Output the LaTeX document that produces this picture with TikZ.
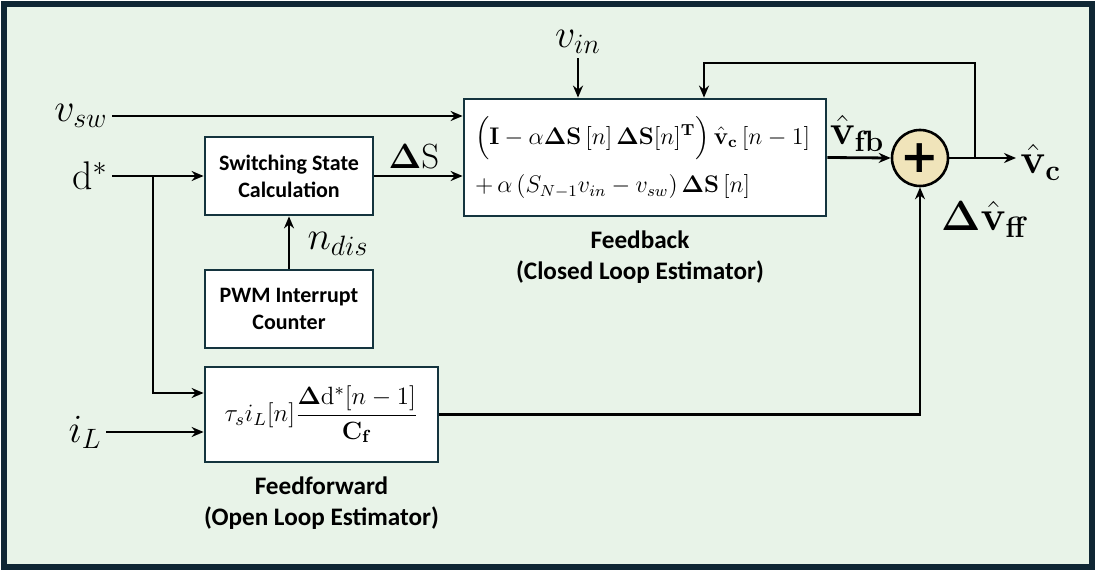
\RequirePackage{fix-cm}
\documentclass[tikz,border=0pt]{standalone}
\usepackage{amsmath}
\usepackage[no-math]{fontspec}
\newfontfamily\labelfont{Carlito}
\newfontfamily\plusfont{DejaVu Sans}
\usetikzlibrary{arrows.meta,positioning,calc}
\definecolor{FrameNavy}{RGB}{15,38,52}
\definecolor{PaleGreen}{RGB}{232,243,232}
\definecolor{BoxEdge}{RGB}{20,52,62}
\definecolor{SumTan}{RGB}{240,228,186}
\tikzset{
  blockbox/.style={draw=BoxEdge, line width=1.4pt, fill=white, align=center,
    minimum width=#1, minimum height=39pt, inner sep=3pt,
    font=\labelfont\bfseries\fontsize{11}{13.5}\selectfont},
  blockbox/.default=84pt,
  mathbox/.style={draw=BoxEdge, line width=1.4pt, fill=white,
    minimum width=#1, inner sep=3pt, font=\fontsize{12.5}{15}\selectfont},
  mathbox/.default=116.5pt,
  sigarr/.style={-{Stealth[length=6pt, width=5pt]}, line width=1.4pt, black},
  siglabel/.style={font=\fontsize{20}{24}\selectfont, inner sep=2pt},
  outlabel/.style={font=\fontsize{21}{25}\selectfont, inner sep=2pt},
  capnote/.style={align=center, font=\labelfont\bfseries\fontsize{12.6}{15.5}\selectfont},
  sumnode/.style={circle, draw=black, line width=1.3pt, fill=SumTan,
    minimum size=28pt, inner sep=0pt, font=\plusfont\bfseries\fontsize{23}{23}\selectfont},
}
\begin{document}
\begin{tikzpicture}[x=0.5pt, y=-0.5pt]
  \useasboundingbox (0,0) rectangle (1096,572);
  \draw[line width=3.3pt, draw=FrameNavy, fill=PaleGreen] (4,4) rectangle (1092,567);

  % blocks
  \node[blockbox] (ssc) at (289,176) {Switching State\\Calculation};
  \node[blockbox] (pwm) at (289,309) {PWM Interrupt\\Counter};
  \node[mathbox, minimum height=47.5pt] (ff) at (321.5,414.5)
    {$\tau_s i_L[n]\dfrac{\mathbf{\Delta}\mathrm{d}^{*}[n-1]}{\mathbf{C}_{\mathbf{f}}}$};
  \node[mathbox=181pt, minimum height=58.5pt, align=left, text width=170pt, inner xsep=5.5pt,
    font=\fontsize{12}{15}\selectfont] (fb) at (645,157.5)
    {\rule{0pt}{14pt}$\left(\vphantom{\Big(}\mathbf{I}-\alpha\mathbf{\Delta S}\left[n\right]\mathbf{\Delta S}[n]^{\mathbf{T}}\right)\hat{\mathbf{v}}_{\mathbf{c}}\left[n-1\right]$\\[6.5pt]
     $+\,\alpha\left(S_{N-1}v_{in}-v_{sw}\right)\mathbf{\Delta S}\left[n\right]$};
  \node[sumnode] (sum) at (920,158) {+};

  % signal labels
  \node[siglabel, anchor=east] (vsw) at (112,116) {$v_{sw}$};
  \node[siglabel, anchor=east] (dstar) at (112,176) {$\mathrm{d}^{*}$};
  \node[siglabel, anchor=east] (il) at (106,432) {$i_L$};
  \node[siglabel] (vin) at (578,42) {$v_{in}$};
  \node[siglabel] (ndis) at (338,244) {$n_{dis}$};
  \node[siglabel, font=\fontsize{17.5}{21}\selectfont] (dS) at (414,156) {$\mathbf{\Delta}\mathrm{S}$};
  \node[outlabel] (vfb) at (857,133) {$\hat{\mathbf{v}}_{\mathbf{fb}}$};
  \node[outlabel, anchor=west] (vc) at (1016,162) {$\hat{\mathbf{v}}_{\mathbf{c}}$};
  \node[outlabel] (dvff) at (985,219) {$\mathbf{\Delta}\hat{\mathbf{v}}_{\mathbf{ff}}$};

  % captions
  \node[capnote] (fbcap) at (640,257) {Feedback\\(Closed Loop Estimator)};
  \node[capnote] (ffcap) at (321.5,503) {Feedforward\\(Open Loop Estimator)};

  % connectors
  \coordinate (split) at (153,176);
  \coordinate (tap) at (975,158);
  \coordinate (looptop) at (704,63);
  \draw[sigarr] (vsw) -- (vsw -| fb.west);
  \draw[sigarr] (dstar) -- (dstar -| ssc.west);
  \draw[sigarr] (split) |- ($(ff.west)+(0,-21.5)$);
  \draw[sigarr] (il) -- (il -| ff.west);
  \draw[sigarr] (ssc) -- (ssc -| fb.west);
  \draw[sigarr] (pwm) -- (ssc);
  \draw[sigarr] (vin) -- (vin |- fb.north);
  \draw[sigarr] (fb.east) -- (sum.west);
  \draw[sigarr] (sum) -- (sum -| vc.west);
  \draw[sigarr] (tap) |- (looptop) -- (looptop |- fb.north);
  \draw[sigarr] (ff.east) -| (sum.south);
\end{tikzpicture}
\end{document}
